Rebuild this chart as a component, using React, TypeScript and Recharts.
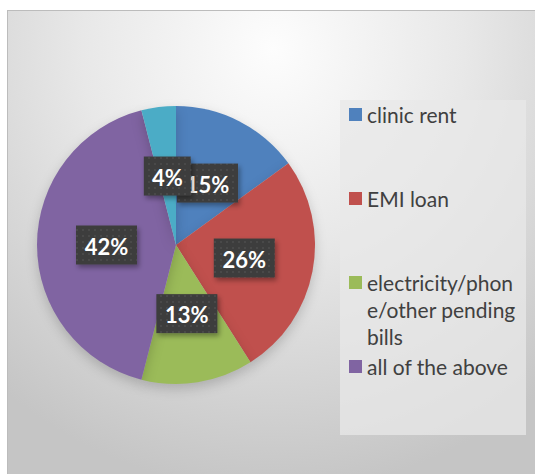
import { PieChart, Pie, Cell, Legend } from "recharts"

const categories = [
  "clinic rent",
  "EMI loan",
  "electricity/phone/other pending bills",
  "all of the above",
  "other",
]
const shares = [15, 26, 13, 42, 4]
const sliceColors = ["#4f81bd", "#c0504d", "#9bbb59", "#8064a2", "#4bacc6"]
// legend box in the original is cut off after the 4th entry
const legendShown = 4

const chartData = categories.map((name, i) => ({ name, value: shares[i] }))

const RAD = Math.PI / 180

function BoxLabel(props: any) {
  const { cx, cy, midAngle, outerRadius, percent } = props
  const r = outerRadius * 0.5
  const x = cx + r * Math.cos(-midAngle * RAD)
  const y = cy + r * Math.sin(-midAngle * RAD)
  const text = `${Math.round(percent * 100)}%`
  const w = text.length > 2 ? 61 : 47
  const h = 39
  return (
    <g>
      <rect x={x - w / 2} y={y - h / 2} width={w} height={h} fill="url(#lblDots)" filter="url(#lblShadow)" />
      <text
        x={x}
        y={y + 1}
        textAnchor="middle"
        dominantBaseline="central"
        fill="#ffffff"
        fontFamily="Lato"
        fontWeight="bold"
        fontSize={22}
      >
        {text}
      </text>
    </g>
  )
}

function SideLegend({ payload }: any) {
  const items = (payload || [])
    .slice()
    .sort((a: any, b: any) => categories.indexOf(a.value) - categories.indexOf(b.value))
    .slice(0, legendShown)
  return (
    <div
      style={{
        width: 186,
        height: 335,
        boxSizing: "border-box",
        paddingTop: 1,
        background: "rgba(232,232,232,0.75)",
        fontFamily: "Lato",
      }}
    >
      {items.map((entry: any) => (
        <div key={entry.value} style={{ display: "flex", alignItems: "flex-start", minHeight: 84 }}>
          <span
            style={{
              width: 13,
              height: 13,
              background: entry.color,
              marginTop: 7,
              marginLeft: 9,
              marginRight: 5,
              flexShrink: 0,
            }}
          />
          <span
            style={{
              width: 155,
              lineHeight: "27px",
              fontSize: 21,
              color: "#404040",
              overflowWrap: "anywhere",
            }}
          >
            {/* no break after the slashes, so the long word wraps mid-word like the original */}
            {String(entry.value).replace(/\//g, "/\u2060")}
          </span>
        </div>
      ))}
    </div>
  )
}

export default function App() {
  return (
    <div
      style={{
        position: "absolute",
        left: 7,
        top: 10,
        width: 532,
        height: 468,
        boxSizing: "border-box",
        border: "1px solid #bcbcbc",
        background:
          "radial-gradient(ellipse 80% 95% at 50% 8%, #fdfdfd 0%, #e8e8e8 45%, #c5c5c5 100%)",
      }}
    >
      <style>{`.recharts-pie-sector { filter: drop-shadow(0px 5px 6px rgba(0,0,0,0.18)); }`}</style>
      <PieChart width={530} height={466} margin={{ top: 0, right: 0, bottom: 0, left: 0 }}>
        <defs>
          <pattern id="lblDots" width="6" height="6" patternUnits="userSpaceOnUse">
            <rect width="6" height="6" fill="#3c3c3c" />
            <circle cx="3" cy="3" r="1" fill="#4c4c4c" />
          </pattern>
          <filter id="lblShadow" x="-30%" y="-30%" width="160%" height="170%">
            <feDropShadow dx="2" dy="3" stdDeviation="2.5" floodColor="#000" floodOpacity="0.35" />
          </filter>
        </defs>
        <Pie
          data={chartData}
          dataKey="value"
          nameKey="name"
          cx={168}
          cy={234}
          outerRadius={139}
          startAngle={90}
          endAngle={-270}
          stroke="none"
          label={BoxLabel}
          labelLine={false}
          isAnimationActive={false}
        >
          {chartData.map((d, i) => (
            <Cell key={d.name} fill={sliceColors[i]} />
          ))}
        </Pie>
        <Legend
          layout="vertical"
          align="right"
          verticalAlign="top"
          content={SideLegend}
          wrapperStyle={{ position: "absolute", left: 332, top: 89, width: 186 }}
        />
      </PieChart>
    </div>
  )
}
